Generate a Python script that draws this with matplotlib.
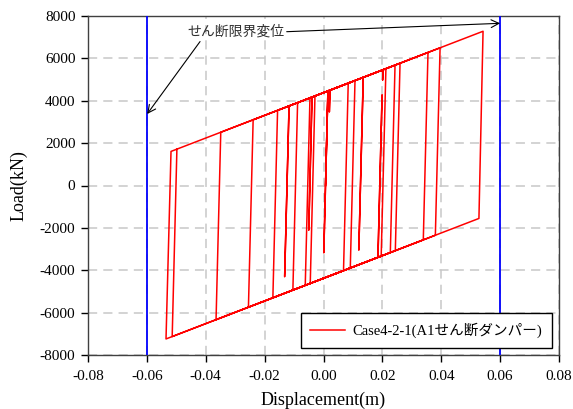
import matplotlib
matplotlib.use("Agg")
import matplotlib.pyplot as plt

plt.rcParams['font.family'] = ['Liberation Serif', 'Noto Sans CJK JP']
plt.rcParams['axes.unicode_minus'] = False

# Hysteresis path (turning points): displacement (m), load (kN)
disp = [0.0007, 0.0015, 0.0022, 0.0020, 0.0022, 0.0084, 0.0068, -0.0045, -0.0029,
        0.0015, 0.0001, 0.0015, 0.0107, 0.0091, -0.0062, -0.0046, -0.0039, -0.0050,
        -0.0039, 0.0135, 0.0120, 0.0135, 0.0202, 0.0201, 0.0202, 0.0212, 0.0196,
        -0.0104, -0.0088, -0.0117, -0.0132, -0.0117, 0.0243, 0.0227, -0.0172, -0.0156,
        0.0260, 0.0244, -0.0255, -0.0239, 0.0355, 0.0339, 0.0185, 0.0199, 0.0185,
        -0.0365, -0.0349, 0.0396, 0.0380, -0.0514, -0.0498, 0.0542, 0.0528, -0.0535,
        -0.0518, -0.0498]
load = [0, 4460, 4498, 3480, 4498, 4829, -4016, -4621, 4225,
        4460, -3170, 4460, 4952, -3893, -4712, 4134, 4171, -2100,
        4171, 5102, -3040, 5102, 5461, 4980, 5461, 5514, -3331,
        -4936, 3909, 3754, -4300, 3754, 5680, -3166, -5300, 3545,
        5771, -3075, -5744, 3101, 6279, -2566, -3390, 4270, -3390,
        -6333, 2513, 6499, -2347, -7130, 1716, 7280, -1555, -7242,
        1609, 1716]

limit_disp = [-0.06, 0.06]
xticks = [-0.08, -0.06, -0.04, -0.02, 0.00, 0.02, 0.04, 0.06, 0.08]
yticks = [-8000, -6000, -4000, -2000, 0, 2000, 4000, 6000, 8000]
series_label = "Case4-2-1(A1せん断ダンパー)"
annot_text = "せん断限界変位"

fig = plt.figure(figsize=(5.73, 4.09), dpi=100)
ax = fig.add_axes([88/573, 54/409, (559-88)/573, (355-16)/409])

ax.set_xlim(-0.08, 0.08)
ax.set_ylim(-8000, 8000)
ax.set_xticks(xticks)
ax.set_yticks(yticks)
ax.set_xticklabels([f"{v:.2f}" for v in xticks])
ax.set_yticklabels([f"{v:d}" for v in yticks])
ax.tick_params(direction='out', length=5, width=1, labelsize=11, colors='black')
ax.tick_params(axis='x', pad=6)
ax.tick_params(axis='y', pad=4)

ax.grid(True, color='#c8c8c8', linestyle=(0, (6, 4)), linewidth=1.1)
ax.set_axisbelow(True)
for s in ax.spines.values():
    s.set_color('#404040')
    s.set_linewidth(1.0)

for xv in limit_disp:
    ax.axvline(xv, color='#0000ff', linewidth=1.3, zorder=3)

ax.plot(disp, load, color='#ff0000', linewidth=1.1, label=series_label, zorder=4)

ax.set_xlabel("Displacement(m)", fontsize=13, labelpad=6)
ax.set_ylabel("Load(kN)", fontsize=13, labelpad=9)

arrowprops = dict(arrowstyle='->', color='black', linewidth=0.8, shrinkA=0, shrinkB=0,
                  mutation_scale=14)
ax.annotate(annot_text, xy=(-0.0599, 3375), xytext=(-0.0297, 7245),
            fontsize=10, ha='center', va='center', color='#303030',
            arrowprops=dict(arrowprops, relpos=(0.15, 0.0)), zorder=5)
ax.annotate("", xy=(0.0600, 7655), xytext=(-0.0125, 7259),
            arrowprops=arrowprops, zorder=5)

leg = ax.legend(loc='lower right', fontsize=10.5, frameon=True, fancybox=False,
                edgecolor='black', framealpha=1, borderaxespad=0.5,
                handlelength=2.4, handletextpad=0.5, borderpad=0.65)
leg.get_frame().set_linewidth(1.0)

fig.savefig("out.png", dpi=100)
